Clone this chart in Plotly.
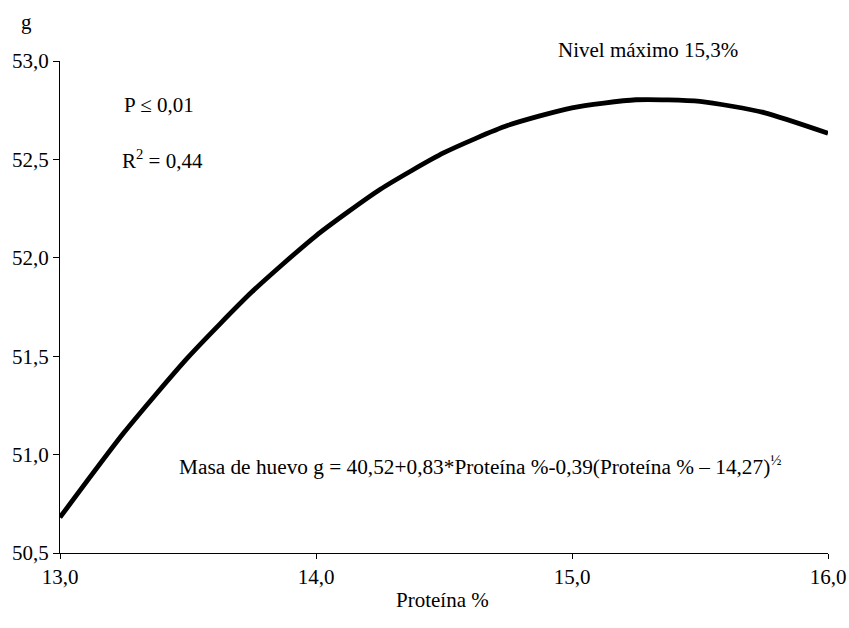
import plotly.graph_objects as go

# Values
proteina = [13.0, 13.25, 13.5, 13.75, 14.0, 14.25, 14.5, 14.75, 15.0, 15.25, 15.5, 15.75, 16.0]
masa_huevo = [50.681, 51.112, 51.494, 51.827, 52.112, 52.347, 52.534, 52.673, 52.762, 52.803, 52.795, 52.738, 52.633]

x_ticks = [13.0, 14.0, 15.0, 16.0]
x_tick_labels = ["13,0", "14,0", "15,0", "16,0"]
y_ticks = [50.5, 51.0, 51.5, 52.0, 52.5, 53.0]
y_tick_labels = ["50,5", "51,0", "51,5", "52,0", "52,5", "53,0"]

FONT = "Times New Roman, Liberation Serif, serif"
FS = 21

fig = go.Figure()
fig.add_trace(go.Scatter(
    x=proteina, y=masa_huevo, mode="lines",
    line=dict(color="black", width=4.8, shape="spline", smoothing=0.6),
    showlegend=False, hoverinfo="skip",
))

fig.update_layout(
    width=849, height=628,
    margin=dict(l=60, r=21, t=61, b=75, autoexpand=False),
    paper_bgcolor="white", plot_bgcolor="white",
    font=dict(family=FONT, size=FS, color="black"),
    xaxis=dict(
        range=[13.0, 16.0], tickvals=x_ticks, ticktext=x_tick_labels,
        showline=True, linecolor="black", linewidth=1.2,
        ticks="outside", ticklen=5, tickwidth=1.2, tickcolor="black",
        showgrid=False, zeroline=False, automargin=False,
        tickfont=dict(family=FONT, size=FS),
    ),
    yaxis=dict(
        range=[50.5, 53.0], tickvals=y_ticks, ticktext=y_tick_labels,
        showline=True, linecolor="black", linewidth=1.2,
        ticks="outside", ticklen=6, tickwidth=1.2, tickcolor="black",
        showgrid=False, zeroline=False, automargin=False,
        tickfont=dict(family=FONT, size=FS),
    ),
)

def ann(text, x, y, xanchor="center", yanchor="middle", size=FS):
    fig.add_annotation(text=text, x=x, y=y, xref="paper", yref="paper",
                       xanchor=xanchor, yanchor=yanchor, showarrow=False,
                       font=dict(family=FONT, size=size, color="black"))

ann("g", -0.043, 1.079)
ann("P ≤ 0,01", 0.081, 0.911, xanchor="left")
ann("R<sup>2</sup> = 0,44", 0.078, 0.799, xanchor="left")
ann("Nivel máximo 15,3%", 0.646, 1.022, xanchor="left")
ann("Masa de huevo g = 40,52+0,83*Proteína %-0,39(Proteína % – 14,27)<sup>½</sup>",
    0.547, 0.177, size=21.3)
ann("Proteína %", 0.498, -0.0955)

fig.write_html(
    "out.html",
    config={"displayModeBar": False},
    post_script="document.body.style.margin='0';document.body.style.overflow='hidden';",
)
